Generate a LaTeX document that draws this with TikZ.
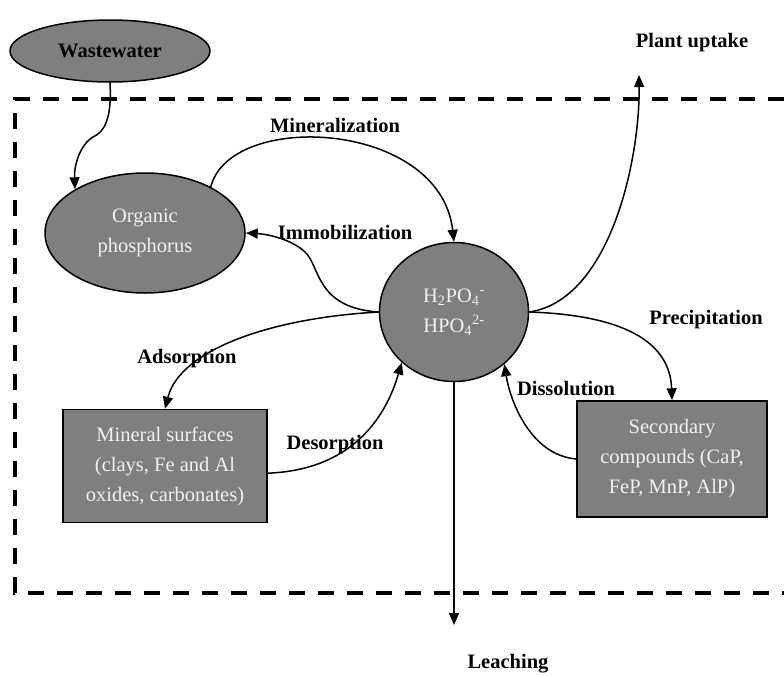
\documentclass[tikz,border=0pt]{standalone}
\usepackage{fontspec}
\setmainfont{Liberation Serif}
\usetikzlibrary{arrows.meta,shapes.geometric}

\definecolor{poolgray}{RGB}{127,127,127}
\definecolor{pooltext}{RGB}{240,240,240}

\tikzset{
  pool/.style={draw,line width=1.5pt,fill=poolgray,text=pooltext,inner sep=0pt,align=center,
    font=\fontsize{20.5}{30}\selectfont},
  roundpool/.style={pool,ellipse},
  boxpool/.style={pool,rectangle},
  lbl/.style={font=\fontsize{20.5}{24}\selectfont\bfseries},
  flow/.style={->,line width=1.5pt}
}

\begin{document}
\begin{tikzpicture}[x=1pt,y=-1pt,>={Triangle[length=12pt,width=10pt]}]
  \useasboundingbox (0,0) rectangle (784,675);

  % soil boundary
  \draw[line width=4pt,dash pattern=on 16pt off 13pt] (784,99) -- (15,99) -- (15,593) -- (784,593);

  % pools
  \draw (110,51)  node (ww) [roundpool,text=black,font=\fontsize{20.5}{24}\selectfont\bfseries,
                             minimum width=200pt,minimum height=62pt] {Wastewater};
  \draw (145,233) node (op) [roundpool,minimum width=200pt,minimum height=120pt] {Organic\\phosphorus};
  \draw (454,312) node (hp) [roundpool,minimum width=149pt,minimum height=139pt]
        {H\textsubscript{2}PO\textsubscript{4}\textsuperscript{-}\\HPO\textsubscript{4}\textsuperscript{2-}};
  \draw (165,466) node (ms) [boxpool,minimum width=204pt,minimum height=113pt]
        {Mineral surfaces\\(clays, Fe and Al\\oxides, carbonates)};
  \draw (672,459) node (sc) [boxpool,minimum width=190pt,minimum height=116pt]
        {Secondary\\compounds (CaP,\\FeP, MnP, AlP)};

  % labels
  \draw (335,125) node (mi) [lbl] {Mineralization};
  \draw (345,232) node (im) [lbl] {Immobilization};
  \draw (187,359) node (ad) [lbl] {Adsorption};
  \draw (335,445) node (de) [lbl] {Desorption};
  \draw (566,389) node (di) [lbl] {Dissolution};
  \draw (706,320) node (pr) [lbl] {Precipitation};
  \draw (692,43)  node (pu) [lbl] {Plant uptake};
  \draw (508,664) node (le) [lbl] {Leaching};

  \coordinate (up) at (639,75);
  \coordinate (down) at (454,625);

  % fluxes
  \draw[flow] (ww.south) .. controls (112,120) and (104,132) .. (93,137)
                        .. controls (80,145) and (74,165) .. (op.148);
  \draw[flow] (op.35) .. controls (230,110) and (440,120) .. (hp.north);
  \draw[flow] (hp.west) .. controls (315,308) and (320,265) .. (305,252)
                        .. controls (290,238) and (265,234) .. (op.east);
  \draw[flow] (hp.west) .. controls (270,318) and (180,350) .. (ms.north);
  \draw[flow] (ms.-4) .. controls (350,470) and (385,420) .. (hp.224);
  \draw[flow] (hp.east) .. controls (610,300) and (640,160) .. (up);
  \draw[flow] (hp.east) .. controls (620,315) and (670,340) .. (sc.north);
  \draw[flow] (sc.west) .. controls (530,455) and (510,400) .. (hp.-46);
  \draw[flow] (hp.south) -- (down);
\end{tikzpicture}
\end{document}
